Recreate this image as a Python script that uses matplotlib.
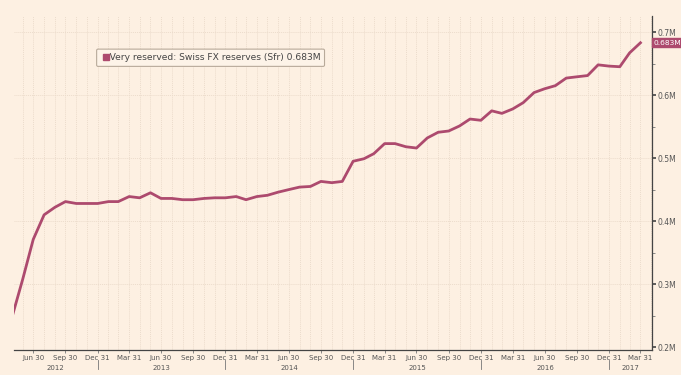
import pandas as pd
import matplotlib
matplotlib.use("Agg")
import matplotlib.pyplot as plt
import matplotlib.dates as mdates
from matplotlib.ticker import MultipleLocator, FuncFormatter
import matplotlib.transforms as mtransforms

# Monthly Swiss FX reserves (Sfr, chart units "M"), Apr 2012 - Mar 2017
dates = pd.date_range("2012-04-30", "2017-03-31", freq="ME")
reserves = [
    0.247, 0.308, 0.371, 0.410, 0.422, 0.431, 0.428, 0.428, 0.428,
    0.431, 0.431, 0.439, 0.437, 0.445, 0.436, 0.436, 0.434, 0.434, 0.436, 0.437, 0.437,
    0.439, 0.434, 0.439, 0.441, 0.446, 0.450, 0.454, 0.455, 0.463, 0.461, 0.463, 0.495,
    0.499, 0.507, 0.523, 0.523, 0.518, 0.516, 0.532, 0.541, 0.543, 0.551, 0.562, 0.560,
    0.575, 0.571, 0.578, 0.588, 0.604, 0.610, 0.615, 0.627, 0.629, 0.631, 0.648, 0.646,
    0.645, 0.667, 0.683,
]
years = [2012, 2013, 2014, 2015, 2016, 2017]
legend_text = "Very reserved: Swiss FX reserves (Sfr) 0.683M"

BG = "#fdf0e2"
LINE = "#ad4a6e"
GRID = "#ecdccc"
TXT = "#555555"

fig = plt.figure(figsize=(6.81, 3.75), dpi=100, facecolor=BG)
ax = fig.add_axes([14 / 681, 25 / 375, 638 / 681, 334 / 375], facecolor=BG)

ax.plot(dates, reserves, color=LINE, lw=2.0, solid_joinstyle="round", zorder=3)

x0, x1 = pd.Timestamp("2012-05-06"), pd.Timestamp("2017-05-03")
ax.set_xlim(x0, x1)
ax.set_ylim(0.1955, 0.7255)

# spines
for s in ["top", "left"]:
    ax.spines[s].set_visible(False)
ax.spines["right"].set_color("#444444")
ax.spines["bottom"].set_color("#444444")
ax.spines["right"].set_linewidth(0.9)
ax.spines["bottom"].set_linewidth(0.9)

# y axis on the right
ax.yaxis.tick_right()
ax.yaxis.set_major_locator(MultipleLocator(0.1))
ax.yaxis.set_minor_locator(MultipleLocator(0.05))
ax.yaxis.set_major_formatter(FuncFormatter(lambda v, p: f"{v:.1f}M"))
ax.tick_params(axis="y", which="major", length=3, width=1.2, color="#444444",
               labelsize=5.5, labelcolor=TXT, pad=1)
ax.tick_params(axis="y", which="minor", length=2, width=0.6, color="#777777")

# x axis: quarter ends
quarters = pd.date_range("2012-06-30", "2017-03-31", freq="QE")
ax.set_xticks(quarters)
ax.set_xticklabels([d.strftime("%b %d").replace(" 0", " ") for d in quarters])
ax.xaxis.set_minor_locator(mdates.MonthLocator(bymonthday=-1))
ax.tick_params(axis="x", which="major", length=2, width=0.6, color="#777777",
               labelsize=5, labelcolor=TXT, pad=1.5)
ax.tick_params(axis="x", which="minor", length=0)

# grid: monthly vertical dotted, 0.1M horizontal dotted
month_ends = pd.date_range("2012-05-31", "2017-04-30", freq="ME")
for d in month_ends:
    ax.axvline(d, color=GRID, lw=0.7, ls=(0, (1, 1)), zorder=1)
for v in [0.3, 0.4, 0.5, 0.6, 0.7]:
    ax.axhline(v, color=GRID, lw=0.7, ls=(0, (1, 1)), zorder=1)

# year labels and separators
trans = mtransforms.blended_transform_factory(ax.transData, ax.transAxes)
for y in years:
    lo = max(pd.Timestamp(f"{y}-01-01"), x0)
    hi = min(pd.Timestamp(f"{y}-12-31"), x1)
    mid = lo + (hi - lo) / 2
    ax.text(mid, -0.044, str(y), transform=trans, ha="center", va="top",
            fontsize=5, color=TXT)
    if y < 2017:
        sep = pd.Timestamp(f"{y}-12-31")
        ax.plot([sep, sep], [-0.03, -0.058], transform=trans, color="#777777",
                lw=0.6, clip_on=False)

# last value tag
ax.annotate("0.683M", xy=(1.0, reserves[-1]), xycoords=("axes fraction", "data"),
            xytext=(1.2, 0), textcoords="offset points", ha="left", va="center",
            fontsize=5.4, color="white",
            bbox=dict(boxstyle="square,pad=0.2", fc=LINE, ec=LINE))

# legend box
ax.text(0.136, 0.875, "   " + legend_text, transform=ax.transAxes,
        fontsize=6.6, color="#444444", ha="left", va="center",
        bbox=dict(boxstyle="round,pad=0.45,rounding_size=0.15", fc="#fdf3e8",
                  ec="#b8aa9a", lw=0.8))
ax.plot([0.1435], [0.877], transform=ax.transAxes, marker="s", ms=4.2,
        color=LINE, mec=LINE, zorder=5, clip_on=False)

fig.savefig("out.png", dpi=100, facecolor=BG)
